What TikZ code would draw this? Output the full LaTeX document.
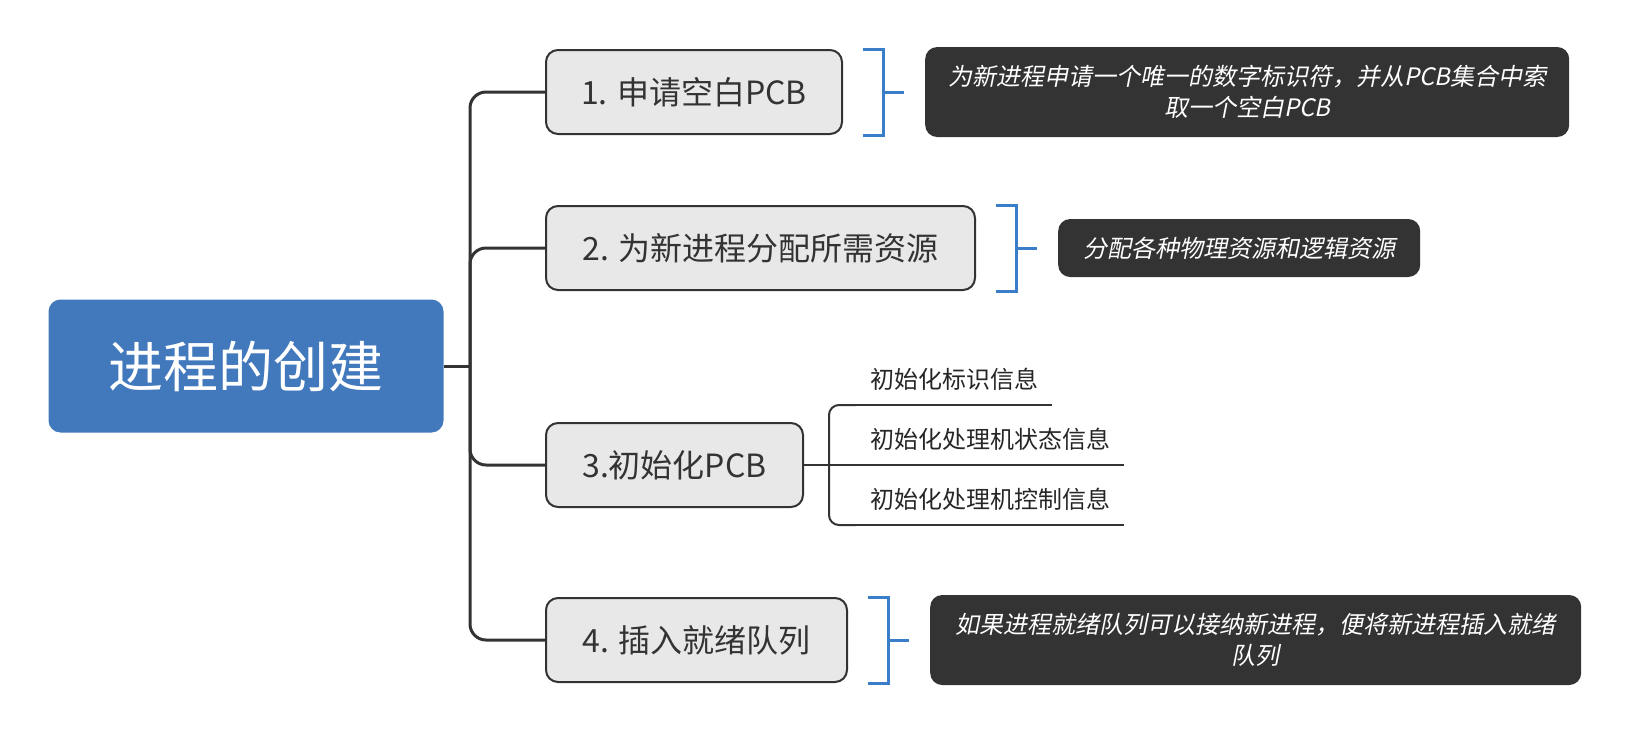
\documentclass[tikz,border=0pt]{standalone}
\usepackage{fontspec}
\usetikzlibrary{positioning}
\newfontfamily\cjk{Noto Sans CJK SC}
\newfontfamily\cjkslant[FakeSlant=0.2]{Noto Sans CJK SC}
\definecolor{rootblue}{HTML}{4279BD}
\definecolor{markblue}{HTML}{3A7DC9}
\definecolor{linegray}{HTML}{333333}
\definecolor{topicfill}{HTML}{E8E8E8}
\definecolor{notefill}{HTML}{333333}

\begin{document}
\begin{tikzpicture}[x=1pt, y=-1pt,
    roottopic/.style={rectangle, rounded corners=12pt, fill=rootblue, text=white,
        minimum width=395pt, minimum height=133pt, font=\cjk\fontsize{55}{60}\selectfont},
    maintopic/.style={rectangle, rounded corners=12pt, draw=linegray, line width=2pt,
        fill=topicfill, text=linegray, minimum height=84pt, anchor=west,
        font=\cjk\fontsize{32}{36}\selectfont},
    notebox/.style={rectangle, rounded corners=12pt, fill=notefill, text=white,
        align=center, font=\cjkslant\fontsize{24}{31}\selectfont},
    subtopic/.style={anchor=south west, inner xsep=14pt, inner ysep=14pt,
        text=black!85, font=\cjk\fontsize{24}{28}\selectfont},
    branch/.style={draw=linegray, line width=3pt, rounded corners=16pt},
    subline/.style={draw=linegray, line width=2pt, rounded corners=10pt},
    summary/.style={draw=markblue, line width=3pt},
]
\useasboundingbox (0,0) rectangle (1636,740);

% 中心主题
\node[roottopic] (root) at (246,366) {进程的创建};
\coordinate (trunk) at (470,366);

% 分支主题
\node[maintopic, minimum width=296pt] (b1) at (545,92) {1. 申请空白PCB};
\node[maintopic, minimum width=429pt] (b2) at (545,248) {2. 为新进程分配所需资源};
\node[maintopic, minimum width=257pt] (b3) at (545,465) {3.初始化PCB};
\node[maintopic, minimum width=301pt] (b4) at (545,640) {4. 插入就绪队列};

\draw[branch] (root.east) -- (trunk);
\foreach \b in {b1,b2,b3,b4}
    \draw[branch] (trunk) |- (\b.west);

% 概要括号
\foreach \b in {b1,b2,b4} {
    \draw[summary] ([xshift=20pt]\b.north east) -- ([xshift=40pt]\b.north east)
        -- ([xshift=40pt]\b.south east) -- ([xshift=20pt]\b.south east);
    \draw[summary] ([xshift=40pt]\b.east) -- ([xshift=61pt]\b.east);
}

% 概要说明
\node[notebox, minimum width=644pt, minimum height=90pt, right=82pt of b1] (n1)
    {为新进程申请一个唯一的数字标识符，并从PCB集合中索\\取一个空白PCB};
\node[notebox, minimum width=362pt, minimum height=58pt, right=82pt of b2] (n2)
    {分配各种物理资源和逻辑资源};
\node[notebox, minimum width=651pt, minimum height=90pt, right=82pt of b4] (n4)
    {如果进程就绪队列可以接纳新进程，便将新进程插入就绪\\队列};

% 子主题
\node[subtopic] (s1) at (856,405) {初始化标识信息};
\node[subtopic] (s2) at (856,465) {初始化处理机状态信息};
\node[subtopic] (s3) at (856,525) {初始化处理机控制信息};
\coordinate (fork) at (829,465);

\foreach \s in {s1,s2,s3}
    \draw[subline] (\s.south west) -- (\s.south east);
\draw[subline] (b3.east) -- (s2.south west);
\draw[subline] (fork) |- (s1.south west);
\draw[subline] (fork) |- (s3.south west);
\end{tikzpicture}
\end{document}
